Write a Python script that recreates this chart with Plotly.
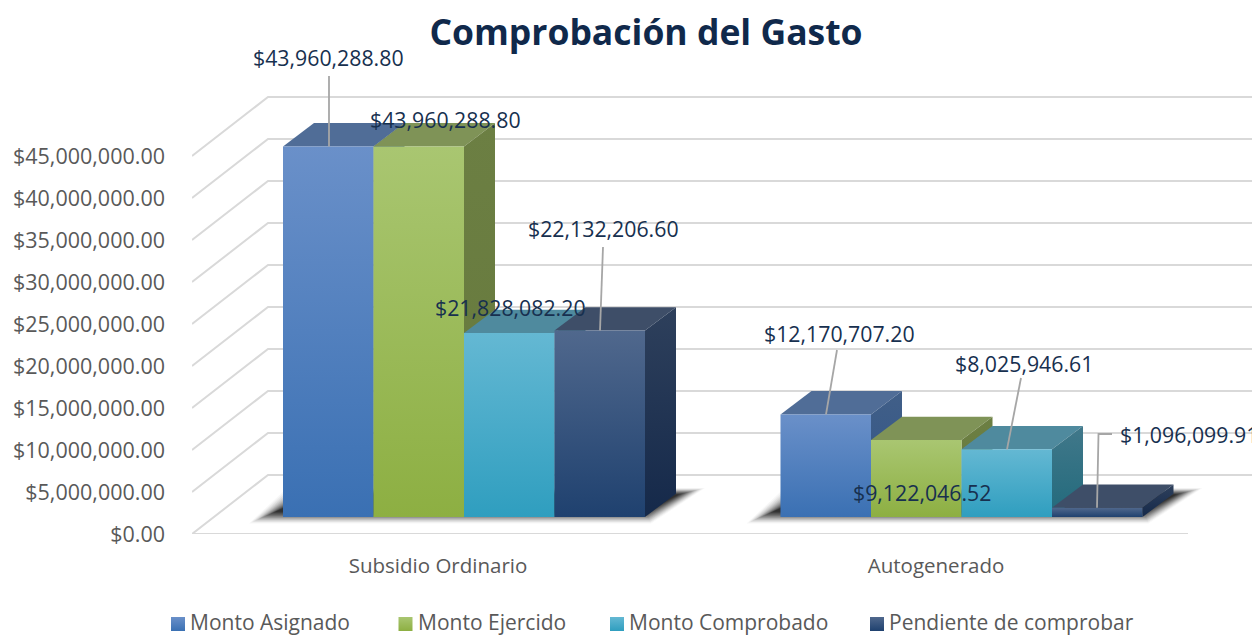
import plotly.graph_objects as go

# ---------- data ----------
categories = ["Subsidio Ordinario", "Autogenerado"]
monto_asignado = [43960288.80, 12170707.20]
monto_ejercido = [43960288.80, 9122046.52]
monto_comprobado = [21828082.20, 8025946.61]
pendiente = [22132206.60, 1096099.91]
tick_values = [0, 5e6, 10e6, 15e6, 20e6, 25e6, 30e6, 35e6, 40e6, 45e6]
series_names = ["Monto Asignado", "Monto Ejercido", "Monto Comprobado", "Pendiente de comprobar"]
series_values = [monto_asignado, monto_ejercido, monto_comprobado, pendiente]

# ---------- styles: (front top, front bottom, top face, side top, side bottom) ----------
styles = [
    ("#6a90c9", "#3a70b3", "#506d97", "#415f88", "#2f5487"),
    ("#a9c671", "#8daf42", "#7f9357", "#6c7f43", "#66793c"),
    ("#64b8d3", "#2f9ebf", "#4f8a9e", "#41788a", "#226a7c"),
    ("#50688d", "#1f416f", "#3e4e68", "#2e405c", "#15294a"),
]
FONT = "Open Sans"
INK = "#17304f"
GREY = "#595959"
GRID = "#d9d9d9"

# ---------- projection of the 3D scene onto the 2D axes ----------
W, H = 1252, 635
AX_L, AX_B = 192, 534          # pixel of the axis origin
PX_PER_USD = 8.4e-6            # wall scale
BAR_PX_PER_USD = 8.43e-6       # scale of the bars, nearer the viewer
def py(p):                     # pixel row -> y-axis value
    return (AX_B - p) / PX_PER_USD

FLOOR_DX, FLOOR_DY = 76, 59    # depth of the floor
BAR_DX, BAR_DY = 31, 23.3      # depth of a bar
BASE_ROW = 517                 # pixel row of the bar bases
GROUP_X = [283, 780.5]
BAR_W = 90.5
CAT_X = [438, 936]
RIGHT_FRONT = 1188
LEGEND_TOP = 597               # pixel row where the legend strip begins

def bar_top(v):
    return BASE_ROW - v * BAR_PX_PER_USD

fig = go.Figure()

def poly(xs, rows, **kw):
    fig.add_trace(go.Scatter(x=xs + xs[:1], y=[py(r) for r in rows + rows[:1]], mode="lines",
                             fill="toself", line=dict(width=0), hoverinfo="skip",
                             showlegend=False, **kw))

def grad(top, bottom):
    return dict(type="vertical", colorscale=[[0, bottom], [1, top]])

# walls and floor grid
gx, gy = [], []
for t in tick_values:
    gx += [AX_L, AX_L + FLOOR_DX, W + 5, None]
    r = AX_B - t * PX_PER_USD
    gy += [py(r), py(r - FLOOR_DY), py(r - FLOOR_DY), None]
gx += [AX_L, RIGHT_FRONT]
gy += [py(AX_B), py(AX_B)]
fig.add_trace(go.Scatter(x=gx, y=gy, mode="lines", line=dict(color=GRID, width=2),
                         hoverinfo="skip", showlegend=False))

# soft floor shadows
for g in range(2):
    xl, xr = GROUP_X[g], GROUP_X[g] + 4 * BAR_W
    for i in range(14):
        s = i * 2.0
        poly([xl - 34 + s, xr + 6 - s * 0.2, xr + 60 - s, xl + 4 + s],
             [523.5 - s * 0.45, 523.5 - s * 0.45, 488 + s * 0.25, 488 + s * 0.25],
             fillcolor=f"rgba(0,0,0,{0.03 + 0.012 * i:.3f})")

# bars, left to right: top, side, then front
for g in range(2):
    for s, vals in enumerate(series_values):
        ft, fb, tp, st, sb = styles[s]
        x0, x1 = GROUP_X[g] + s * BAR_W, GROUP_X[g] + (s + 1) * BAR_W
        top = bar_top(vals[g])
        poly([x0, x1, x1 + BAR_DX, x0 + BAR_DX], [top, top, top - BAR_DY, top - BAR_DY], fillcolor=tp)
        poly([x1, x1 + BAR_DX, x1 + BAR_DX, x1], [top, top - BAR_DY, BASE_ROW - BAR_DY, BASE_ROW],
             fillcolor=sb, fillgradient=grad(st, sb))
        poly([x0, x1, x1, x0], [top, top, BASE_ROW, BASE_ROW], name=series_names[s],
             fillcolor=fb, fillgradient=grad(ft, fb))

# leader lines: (group, series, bottom x offset within bar, label end x, label end row)
leaders = [
    (0, 0, 46, [329], [76]),
    (0, 3, 45.5, [603], [247]),
    (1, 0, 45.5, [837], [350]),
    (1, 2, 45.5, [1021], [378]),
    (1, 3, 45, [1098.5, 1112], [434, 434]),
]
lx, ly = [], []
for g, s, off, xs, rows in leaders:
    lx += [GROUP_X[g] + s * BAR_W + off] + xs + [None]
    ly += [py(bar_top(series_values[s][g]))] + [py(r) for r in rows] + [None]
fig.add_trace(go.Scatter(x=lx, y=ly, mode="lines", line=dict(color="#a6a6a6", width=1.8),
                         hoverinfo="skip", showlegend=False))

# data labels: (group, series, centre x, centre row)
label_pos = [
    (0, 0, 328.5, 57.5), (0, 1, 445, 119.5), (0, 2, 510, 307.5), (0, 3, 603, 228.5),
    (1, 0, 839.5, 333), (1, 1, 922, 492), (1, 2, 1023.5, 363), (1, 3, 1188.5, 434),
]
annotations = []
for g, s, cx, r in label_pos:
    annotations.append(dict(x=cx, y=py(r), xref="x", yref="y", showarrow=False, xanchor="center",
                            yanchor="middle", text=f"${series_values[s][g]:,.2f}",
                            font=dict(family=FONT, size=21.3, color=INK)))

# legend strip (its axes count pixels)
legend_x = [171, 398.5, 610, 870]
for s, name in enumerate(series_names):
    ft, fb = styles[s][:2]
    fig.add_trace(go.Scatter(x=[legend_x[s] + 7], y=[624], xaxis="x2", yaxis="y2", mode="markers",
                             name=name, showlegend=False, hoverinfo="skip",
                             marker=dict(symbol="square", size=14, color=ft, line=dict(width=0),
                                         gradient=dict(type="vertical", color=fb))))
    annotations.append(dict(x=legend_x[s] + 17, y=621.5, xref="x2", yref="y2", showarrow=False,
                            xanchor="left", yanchor="middle", text=name,
                            font=dict(family=FONT, size=21, color=GREY)))

fig.update_layout(
    width=W, height=H, autosize=False,
    margin=dict(l=0, r=0, t=0, b=0, pad=0),
    paper_bgcolor="white", plot_bgcolor="white", showlegend=False,
    title=dict(text="<b>Comprobación del Gasto</b>", x=646 / W, xanchor="center", xref="container",
               y=1 - 33 / H, yanchor="middle", yref="container", automargin=False,
               font=dict(family=FONT, size=35.5, color="#10294b")),
    xaxis=dict(domain=[AX_L / W, 1], range=[AX_L, W], showgrid=False, zeroline=False, showline=False,
               ticks="", anchor="y", automargin=False, tickmode="array", tickvals=CAT_X,
               ticktext=categories, ticklabelstandoff=17,
               tickfont=dict(family=FONT, size=20.5, color=GREY)),
    yaxis=dict(domain=[(H - AX_B) / H, 1], range=[0, py(0)], showgrid=False, zeroline=False,
               showline=False, ticks="", anchor="x", automargin=False, tickmode="array",
               tickvals=tick_values, ticktext=[f"${t:,.2f}" for t in tick_values],
               ticklabelstandoff=26, tickfont=dict(family=FONT, size=21.5, color=GREY)),
    xaxis2=dict(domain=[0, 1], range=[0, W], anchor="y2", visible=False, automargin=False),
    yaxis2=dict(domain=[0, (H - LEGEND_TOP) / H], range=[H, LEGEND_TOP], anchor="x2", visible=False,
                automargin=False),
    annotations=annotations,
)
fig.write_html("out.html", post_script="document.body.style.margin='0';",
               config=dict(displayModeBar=False))
